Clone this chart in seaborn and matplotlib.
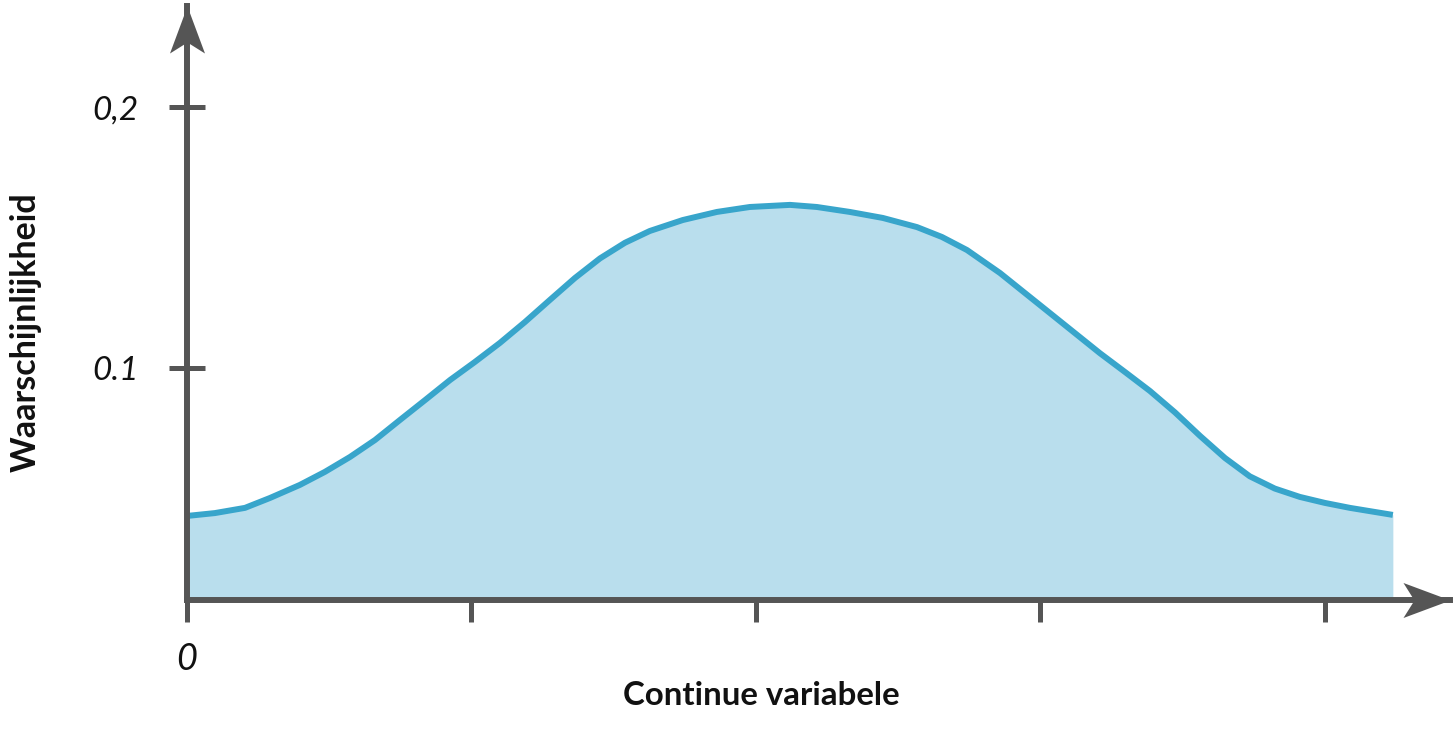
import numpy as np
import pandas as pd
import matplotlib
matplotlib.use("Agg")
import matplotlib.pyplot as plt
from matplotlib.path import Path
import seaborn as sns

# data
x_vals = [0.000, 0.098, 0.204, 0.292, 0.397, 0.485, 0.573, 0.661, 0.749, 0.837,
          0.925, 1.012, 1.100, 1.188, 1.276, 1.364, 1.452, 1.540, 1.627, 1.743,
          1.863, 1.979, 2.120, 2.214, 2.330, 2.446, 2.566, 2.654, 2.742, 2.858,
          2.946, 3.033, 3.121, 3.209, 3.297, 3.385, 3.473, 3.561, 3.649, 3.736,
          3.824, 3.912, 4.000, 4.088, 4.239]
density = [0.0433, 0.0444, 0.0464, 0.0502, 0.0552, 0.0602, 0.0659, 0.0724, 0.0801,
           0.0877, 0.0954, 0.1023, 0.1096, 0.1176, 0.1261, 0.1345, 0.1420, 0.1480,
           0.1525, 0.1567, 0.1598, 0.1617, 0.1625, 0.1617, 0.1598, 0.1575, 0.1540,
           0.1502, 0.1452, 0.1364, 0.1287, 0.1211, 0.1134, 0.1057, 0.0985, 0.0912,
           0.0830, 0.0740, 0.0655, 0.0585, 0.0538, 0.0506, 0.0483, 0.0464, 0.0437]
x_ticks = [0, 1, 2, 3, 4]
x_tick_labels = ["0", "", "", "", ""]
y_ticks = [0.1, 0.2]
y_tick_labels = ["0.1", "0,2"]

axis_color = "#555555"
line_color = "#38a5cb"
fill_color = "#b9deed"

sns.set_theme(style="white")
plt.rcParams["font.family"] = ["Lato", "DejaVu Sans"]

df = pd.DataFrame({"x": x_vals, "y": density})

fig = plt.figure(figsize=(14.56, 7.36), dpi=100)
ax = fig.add_axes([0.1284, 0.1848, 0.8675, 0.807])

ax.fill_between(df["x"], df["y"], 0, color=fill_color, lw=0, zorder=1)
sns.lineplot(data=df, x="x", y="y", ax=ax, color=line_color, linewidth=4.3,
             zorder=2)
ax.lines[-1].set_solid_capstyle("butt")
ax.lines[-1].set_solid_joinstyle("round")

xmax, ymin, ymax = 4.44, 0.0111, 0.2387
ax.set_xlim(0, xmax)
ax.set_ylim(ymin, ymax)

# axes with arrow heads
for side in ["top", "right"]:
    ax.spines[side].set_visible(False)
for side in ["left", "bottom"]:
    ax.spines[side].set_color(axis_color)
    ax.spines[side].set_linewidth(4.3)
    ax.spines[side].set_zorder(4)

up_head = Path([(0, 0), (-17.5, -47), (0, -36), (17.5, -47), (0, 0)],
               [Path.MOVETO, Path.LINETO, Path.LINETO, Path.LINETO, Path.CLOSEPOLY])
right_head = Path([(0, 0), (-47, -17.5), (-36, 0), (-47, 17.5), (0, 0)],
                  [Path.MOVETO, Path.LINETO, Path.LINETO, Path.LINETO, Path.CLOSEPOLY])
ax.plot([0], [ymax], marker=up_head, markersize=67.7, color=axis_color,
        markeredgewidth=0, linestyle="none", clip_on=False, zorder=6)
ax.plot([xmax], [ymin], marker=right_head, markersize=67.7, color=axis_color,
        markeredgewidth=0, linestyle="none", clip_on=False, zorder=6)

ax.set_xticks(x_ticks)
ax.set_xticklabels(x_tick_labels)
ax.set_yticks(y_ticks)
ax.set_yticklabels(y_tick_labels)
ax.tick_params(axis="x", direction="out", length=15.8, width=3.6,
               color=axis_color, pad=15, bottom=True)
ax.tick_params(axis="y", direction="inout", length=26, width=3.6,
               color=axis_color, pad=22, left=True)
for lbl in ax.get_yticklabels():
    lbl.set_fontstyle("italic")
    lbl.set_color("#111111")
    lbl.set_fontsize(24)
for lbl in ax.get_xticklabels():
    lbl.set_fontstyle("italic")
    lbl.set_color("#111111")
    lbl.set_fontsize(26)

ax.set_xlabel("Continue variabele", fontsize=23.8, fontweight="bold", color="#111111")
ax.xaxis.set_label_coords(0.455, -0.16)
ax.xaxis.label.set_va("center")
ax.set_ylabel("Waarschijnlijkheid", fontsize=24.5, fontweight="bold", color="#111111")
ax.yaxis.set_label_coords(-0.128, 0.451)
ax.yaxis.label.set_va("center")

fig.savefig("out.png", dpi=100, facecolor="white")
